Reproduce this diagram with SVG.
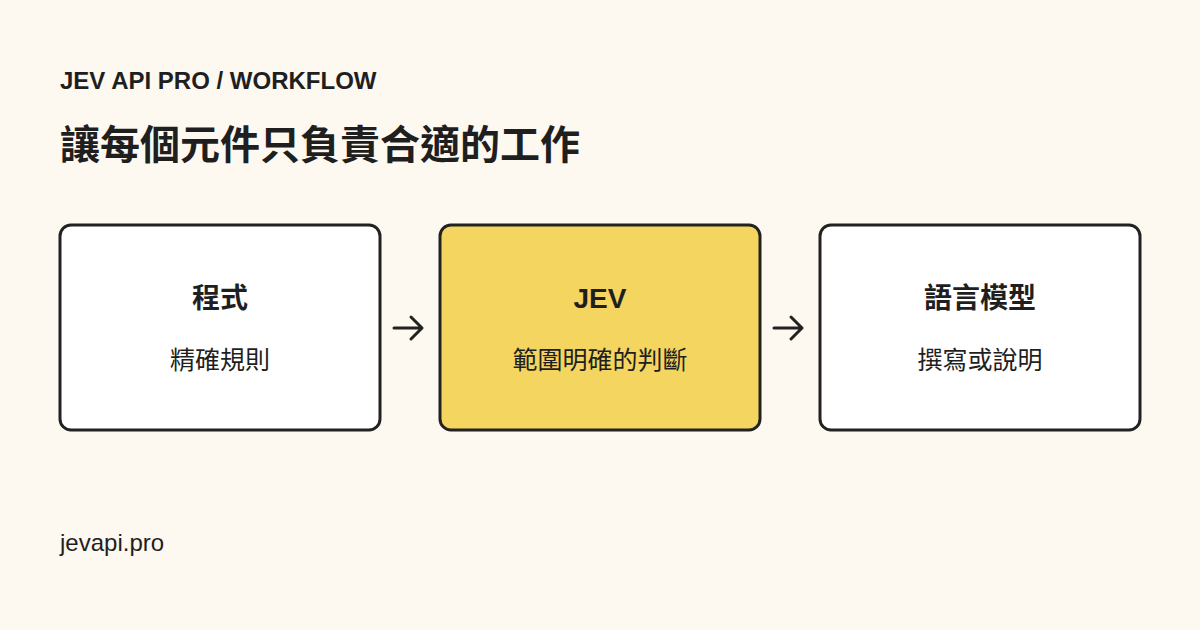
<svg xmlns="http://www.w3.org/2000/svg" width="1200" height="630" viewBox="0 0 1200 630">
<defs>
<style>
.t{font-family:"Liberation Sans","Noto Sans CJK TC",sans-serif;fill:#1f1f1f}
.box{stroke:#222;stroke-width:3}
.h{font-size:28px;font-weight:bold;text-anchor:middle}
.s{font-size:25px;text-anchor:middle}
.c{stroke:#222;stroke-width:3;fill:none;stroke-linecap:round;stroke-linejoin:round}
</style>
</defs>
<rect width="1200" height="630" fill="#fdf8f0"/>
<text class="t" x="60" y="89" font-size="24" font-weight="bold">JEV API PRO / WORKFLOW</text>
<text class="t" x="60" y="159" font-size="40" font-weight="bold">讓每個元件只負責合適的工作</text>
<g id="n1"><rect class="box" x="60" y="225" width="320" height="205" rx="11" fill="#fff"/>
<text class="t h" x="220" y="308">程式</text><text class="t s" x="220" y="369">精確規則</text></g>
<g id="n2"><rect class="box" x="440" y="225" width="320" height="205" rx="11" fill="#f3d55f"/>
<text class="t h" x="600" y="308">JEV</text><text class="t s" x="600" y="369">範圍明確的判斷</text></g>
<g id="n3"><rect class="box" x="820" y="225" width="320" height="205" rx="11" fill="#fff"/>
<text class="t h" x="980" y="308">語言模型</text><text class="t s" x="980" y="369">撰寫或說明</text></g>
<g id="connectors">
<path class="c" d="M394 328H422M411 317L422 328L411 339"/>
<path class="c" d="M774 328H802M791 317L802 328L791 339"/>
</g>
<text class="t" x="60" y="551" font-size="24">jevapi.pro</text>
</svg>
